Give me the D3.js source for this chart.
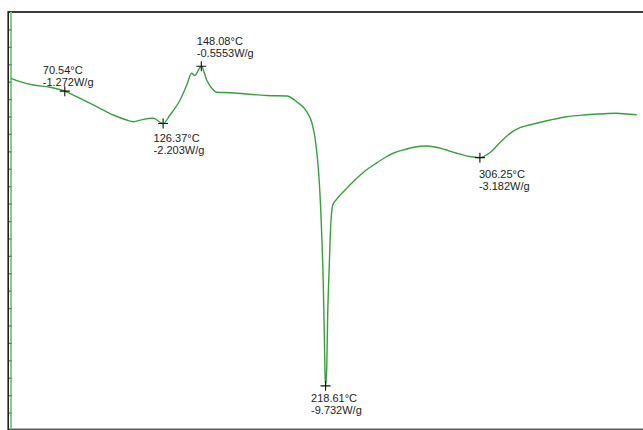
<!DOCTYPE html>
<html>
<head>
<meta charset="utf-8">
<script src="https://cdn.jsdelivr.net/npm/d3@7"></script>
<style>
	html, body { margin: 0; padding: 0; background: #fff; }
	#wrapper { width: 643px; height: 430px; overflow: hidden; }
	.peak-label { font-family: 'Liberation Sans', Arial, sans-serif; font-size: 11px; fill: #222; }
</style>
</head>
<body>
<div id="wrapper"></div>
<script>
// temperature (°C) and heat flow (W/g)
const temps = [
	40.0, 45.1, 52.7, 62.2, 70.54, 77.3, 83.0, 90.5, 98.1, 105.7, 109.5, 115.1, 120.8, 126.37,
	130.3, 136.0, 139.8, 142.6, 144.5, 146.4, 148.08, 151.1, 154.0, 156.8, 164.4, 173.8, 185.2,
	196.6, 202.2, 207.9, 210.8, 212.6, 213.9, 215.1, 216.4, 217.3, 217.9, 218.3, 218.61,
	219.3, 219.8, 220.7, 221.5, 222.7, 224.5, 229.7, 235.3, 241.0, 246.7, 252.4, 258.0, 263.7,
	269.4, 275.1, 280.8, 286.4, 292.7, 300.6, 306.25, 312.0, 317.7, 323.4, 329.0, 336.6, 346.1,
	355.5, 365.0, 374.5, 383.9, 389.6, 395.3
];
const heatFlow = [
	-0.904, -1.001, -1.096, -1.162, -1.272, -1.432, -1.575, -1.765, -1.957, -2.101, -2.150, -2.081, -2.052, -2.203,
	-1.957, -1.527, -1.096, -0.760, -0.823, -0.665, -0.5553, -0.952, -1.191, -1.305, -1.317, -1.354, -1.397,
	-1.412, -1.575, -1.862, -2.173, -2.603, -3.154, -3.910, -5.345, -6.781, -8.216, -9.365, -9.732,
	-9.184, -7.748, -6.313, -5.164, -4.541, -4.398, -4.111, -3.824, -3.565, -3.364, -3.177, -3.034, -2.948,
	-2.876, -2.847, -2.876, -2.948, -3.048, -3.149, -3.182, -3.034, -2.747, -2.483, -2.322, -2.216, -2.101,
	-2.006, -1.957, -1.928, -1.908, -1.928, -1.949
];

// annotated peaks
const peakTemps = [70.54, 126.37, 148.08, 218.61, 306.25];
const peakFlows = [-1.272, -2.203, -0.5553, -9.732, -3.182];
const peakTempLabels = ['70.54°C', '126.37°C', '148.08°C', '218.61°C', '306.25°C'];
const peakFlowLabels = ['-1.272W/g', '-2.203W/g', '-0.5553W/g', '-9.732W/g', '-3.182W/g'];

// unlabelled y ticks every 0.5 W/g
const yTicks = [
	0.5, 0, -0.5, -1, -1.5, -2, -2.5, -3, -3.5, -4, -4.5, -5, -5.5,
	-6, -6.5, -7, -7.5, -8, -8.5, -9, -9.5, -10, -10.5
];

// label placement relative to the marker (px)
const labelOffsets = [
	{ dx: -22, dy: -17.5 },
	{ dx: -9.5, dy: 18.5 },
	{ dx: -4.5, dy: -21.5 },
	{ dx: -14.5, dy: 16 },
	{ dx: -1, dy: 20 }
];

const dimensions = { width: 643, height: 430 };

const data = temps.map((t, i) => ({ t: t, v: heatFlow[i] }));
const peaks = peakTemps.map((t, i) => ({
	t: t,
	v: peakFlows[i],
	l1: peakTempLabels[i],
	l2: peakFlowLabels[i],
	off: labelOffsets[i]
}));

const x = d3.scaleLinear().domain([ 40, 400 ]).range([ 11, 645 ]);
const y = d3.scaleLinear().domain([ -11, 1 ]).range([ 430, 12 ]);

const svg = d3
	.select('#wrapper')
	.append('svg')
	.attr('width', dimensions.width)
	.attr('height', dimensions.height);

// frame
svg.append('line')
	.attr('x1', 8).attr('x2', 643).attr('y1', 12).attr('y2', 12)
	.attr('stroke', '#3a3a3a').attr('stroke-width', 2);
svg.append('line')
	.attr('x1', 8).attr('x2', 643).attr('y1', 429.3).attr('y2', 429.3)
	.attr('stroke', '#5a5a5a').attr('stroke-width', 1.6);
svg.append('line')
	.attr('x1', 8.2).attr('x2', 8.2).attr('y1', 11).attr('y2', 430)
	.attr('stroke', '#222').attr('stroke-width', 1.6);
svg.append('line')
	.attr('x1', 11).attr('x2', 11).attr('y1', 12).attr('y2', 429)
	.attr('stroke', '#80cf88').attr('stroke-width', 2);

// y axis ticks (no labels)
const yAxisGenerator = d3.axisRight(y).tickValues(yTicks).tickSize(2.5).tickFormat('');
const yAxis = svg.append('g')
	.attr('class', 'y-axis')
	.attr('transform', 'translate(9, 0)')
	.call(yAxisGenerator);
yAxis.select('.domain').remove();
yAxis.selectAll('.tick line').attr('stroke', '#3d9a48').attr('stroke-width', 1.3);

// Draw the trace.
const line = d3.line()
	.x((d) => x(d.t))
	.y((d) => y(d.v))
	.curve(d3.curveMonotoneX);

svg.append('path')
	.datum(data)
	.attr('fill', 'none')
	.attr('stroke', '#3a9e3e')
	.attr('stroke-width', 1.4)
	.attr('stroke-linejoin', 'round')
	.attr('d', line);

// peak markers
const marks = svg.selectAll('.peak').data(peaks).join('g')
	.attr('class', 'peak')
	.attr('transform', (d) => `translate(${x(d.t)}, ${y(d.v)})`);

marks.append('path')
	.attr('d', 'M-5,0H5M0,-5V5')
	.attr('stroke', '#111')
	.attr('stroke-width', 1.1)
	.attr('fill', 'none');

marks.append('text')
	.attr('class', 'peak-label')
	.attr('x', (d) => d.off.dx)
	.attr('y', (d) => d.off.dy)
	.text((d) => d.l1);

marks.append('text')
	.attr('class', 'peak-label')
	.attr('x', (d) => d.off.dx)
	.attr('y', (d) => d.off.dy + 12.3)
	.text((d) => d.l2);
</script>
</body>
</html>
